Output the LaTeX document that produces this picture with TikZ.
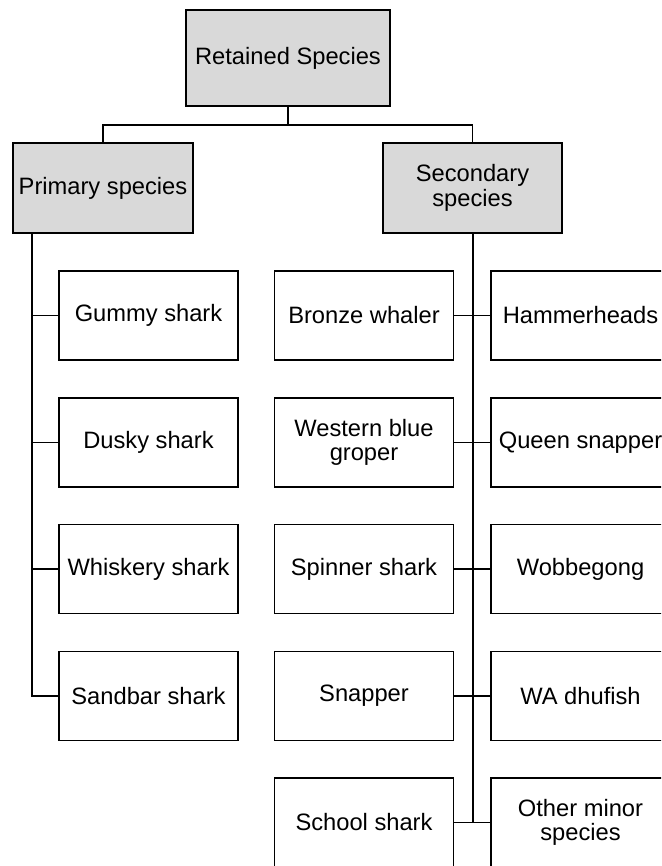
\documentclass[tikz,border=0pt]{standalone}
\usepackage{fontspec}
\setmainfont{Liberation Sans}
\begin{document}
\begin{tikzpicture}[x=1pt,y=-1pt,
	box/.style={draw, line width=1.2pt, inner sep=0pt, minimum width=179pt, minimum height=89pt, align=center, font=\fontsize{23.7}{24.5}\selectfont},
	head/.style={box, fill=gray!30},
	link/.style={line width=1.2pt},
	spine/.style={line width=2pt}]
		\clip (0,0) rectangle (661,866);
		\draw
		node[head, minimum width=204pt, minimum height=96pt] at (288,58) (ret) {Retained Species}
		node[head, minimum width=180pt, minimum height=90pt] at (103,188) (prim) {Primary species}
		node[head, minimum height=90pt] at (472.5,188) (sec) {Secondary\\species}
		node[box] at (148.5,315.5) (gum) {Gummy shark}
		node[box] at (148.5,442.5) (dus) {Dusky shark}
		node[box] at (148.5,569) (whi) {Whiskery shark}
		node[box] at (148.5,696) (san) {Sandbar shark}
		node[box] at (364,315.5) (bro) {Bronze whaler}
		node[box] at (364,442.5) (wes) {Western blue\\groper}
		node[box] at (364,569) (spi) {Spinner shark}
		node[box] at (364,696) (sna) {Snapper}
		node[box] at (364,822.5) (sch) {School shark}
		node[box] at (580.5,315.5) (ham) {Hammerheads}
		node[box] at (580.5,442.5) (que) {Queen snapper}
		node[box] at (580.5,569) (wob) {Wobbegong}
		node[box] at (580.5,696) (dhu) {WA dhufish}
		node[box] at (580.5,822.5) (oth) {Other minor\\species};
		% bus under the top box
		\coordinate (bus) at (288,125);
		\coordinate (pri) at (32,233);
		\draw[link] (ret) -- (bus) -| (prim);
		\draw[link] (bus) -| (sec);
		% primary species
		\draw[link] (pri) |- (san);
		\foreach \s in {gum,dus,whi}
			\draw[link] (\s.west) -- (\s.west -| pri);
		% secondary species
		\draw[spine] (sec) -- (sec |- oth.west);
		\draw[link] (bro) -- (ham);
		\draw[link] (wes) -- (que);
		\draw[link] (spi) -- (wob);
		\draw[link] (sna) -- (dhu);
		\draw[link] (sch) -- (oth);
	\end{tikzpicture}
\end{document}
